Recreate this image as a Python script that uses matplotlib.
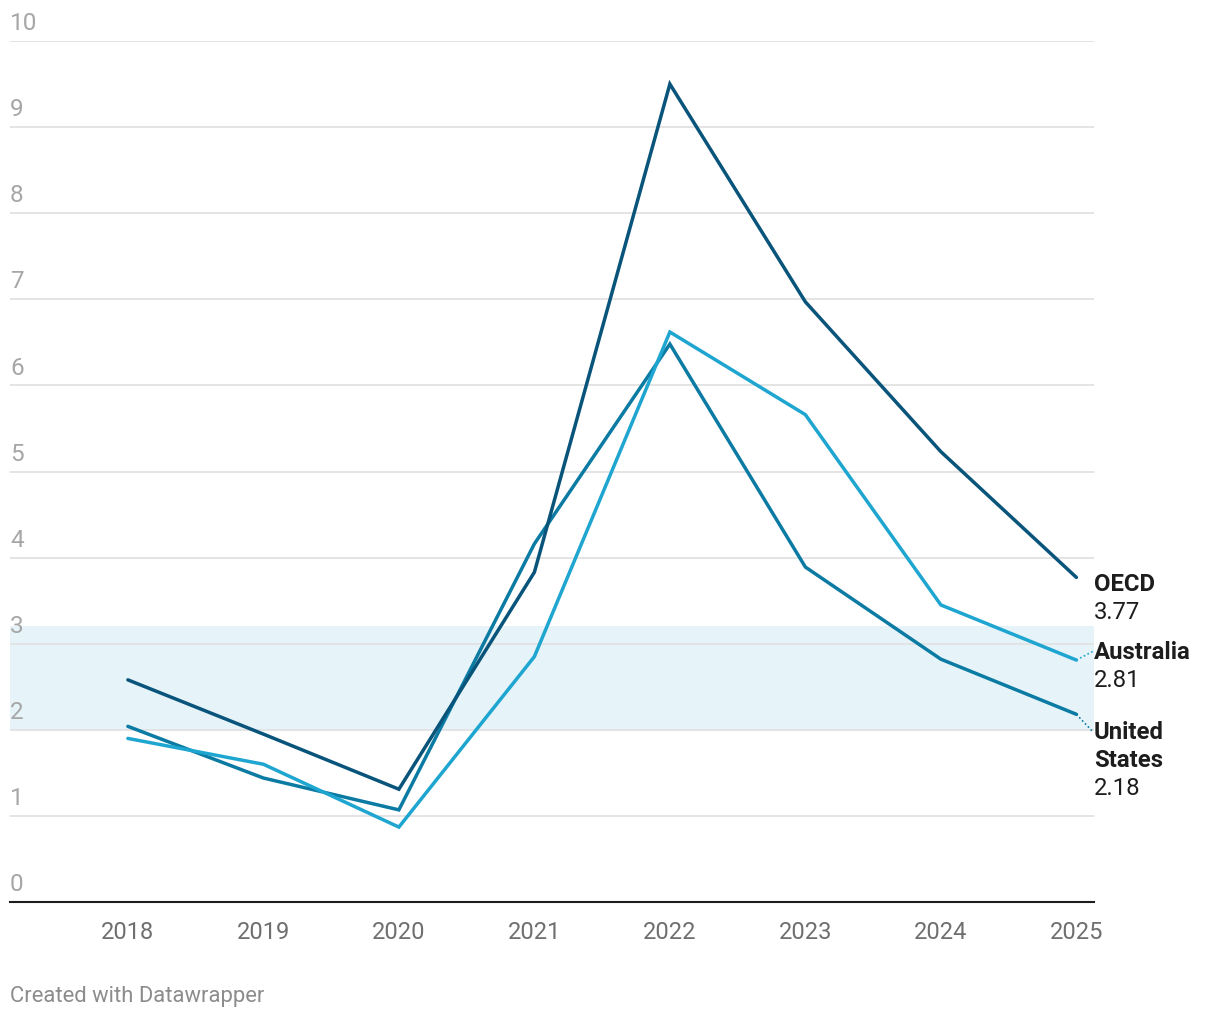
import matplotlib
matplotlib.use("Agg")
import matplotlib.pyplot as plt

plt.rcParams['font.family'] = ['Roboto', 'DejaVu Sans']

years = [2018, 2019, 2020, 2021, 2022, 2023, 2024, 2025]
oecd = [2.58, 1.95, 1.31, 3.83, 9.50, 6.97, 5.23, 3.77]
united_states = [2.04, 1.44, 1.07, 4.16, 6.48, 3.89, 2.82, 2.18]
australia = [1.90, 1.60, 0.87, 2.85, 6.62, 5.66, 3.45, 2.81]
yticks = [0, 1, 2, 3, 4, 5, 6, 7, 8, 9, 10]
band = (2, 3.21)

fig = plt.figure(figsize=(12.2, 10.2), dpi=100)
ax = fig.add_axes([10/1220, 1 - 903/1020, 1084/1220, 861/1020])
ax.set_xlim(2017.13, 2025.13)
ax.set_ylim(0, 10)

# target band
ax.axhspan(band[0], band[1], color='#e6f3f9', zorder=0, lw=0)

for t in yticks:
    if t > 0:
        ax.axhline(t, color='#e2e2e2', lw=1.3, zorder=1)
    ax.text(2017.13, t + 0.08, str(t), color='#a6a6a6', fontsize=17.5,
            va='bottom', ha='left', clip_on=False)

series = [
    ('United States', united_states, '#0b7ba3', -0.20),
    ('Australia', australia, '#1ea5d0', 0.10),
    ('OECD', oecd, '#08547a', -0.07),
]
for name, vals, col, nudge in series:
    ax.plot(years, vals, color=col, lw=2.5, zorder=3, solid_capstyle='round',
            solid_joinstyle='miter')
    ly = vals[-1] + nudge
    if abs(nudge) > 0.08:
        ax.plot([years[-1], years[-1] + 0.12], [vals[-1], ly], color=col,
                lw=1.2, ls=(0, (1, 1.5)), clip_on=False, zorder=3)
    lines = name.split(' ')
    for i, part in enumerate(lines):
        ax.annotate(part, (2025.13, ly), xytext=(0, -i * 20.3), textcoords='offset points',
                    fontsize=17.2, fontweight='bold', color='#1d1d1d', va='center',
                    ha='left', annotation_clip=False)
    ax.annotate(f'{vals[-1]:.2f}', (2025.13, ly), xytext=(0, -len(lines) * 20.3),
                textcoords='offset points', fontsize=17.2, color='#1d1d1d',
                va='center', ha='left', annotation_clip=False)

ax.set_xticks(years)
ax.set_xticklabels([str(y) for y in years], fontsize=17, color='#6f6f6f')
ax.tick_params(axis='x', length=0, pad=13)
ax.set_yticks([])
for s in ['top', 'right', 'left']:
    ax.spines[s].set_visible(False)
ax.spines['bottom'].set_color('#1d1d1d')
ax.spines['bottom'].set_linewidth(1.5)
ax.spines['bottom'].set_zorder(4)

fig.text(10/1220, 1 - 997/1020, 'Created with Datawrapper', fontsize=15.8,
         color='#8c8c8c', va='center', ha='left')

fig.savefig('out.png', dpi=100, facecolor='white')
